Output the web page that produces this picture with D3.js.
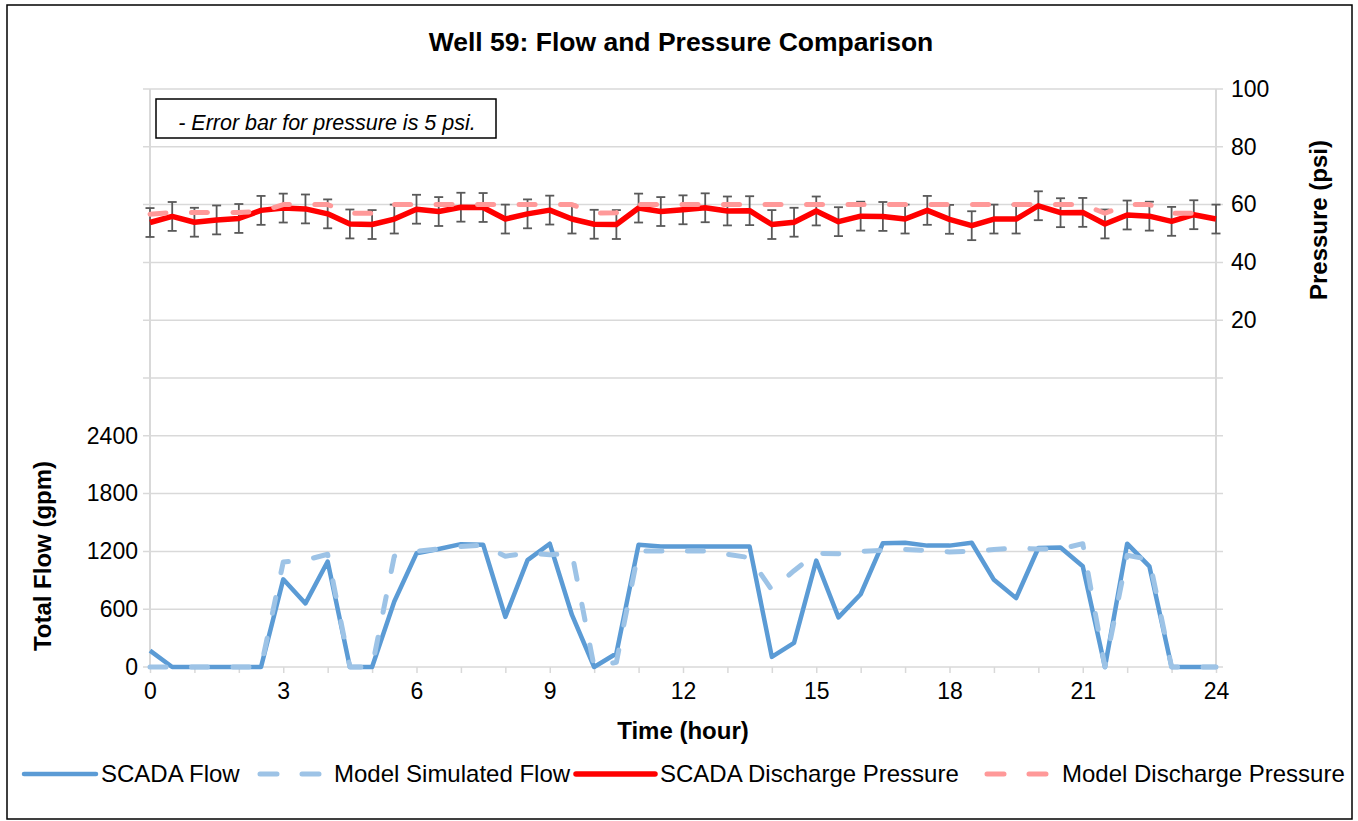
<!DOCTYPE html>
<html>
<head>
  <meta charset="utf-8">
  <title>Well 59: Flow and Pressure Comparison</title>
  <script src="https://cdn.jsdelivr.net/npm/d3@7"></script>
  <style>
    body { margin: 0; background: #fff; }
    svg text { font-family: "Liberation Sans", Arial, sans-serif; fill: #000; }
  </style>
</head>
<body>
<svg id="chart" width="1358" height="821"></svg>
<script>
  // time in hours (every half hour)
  var hours = [0, 0.5, 1, 1.5, 2, 2.5, 3, 3.5, 4, 4.5, 5, 5.5, 6, 6.5, 7, 7.5, 8, 8.5, 9, 9.5,
    10, 10.5, 11, 11.5, 12, 12.5, 13, 13.5, 14, 14.5, 15, 15.5, 16, 16.5, 17, 17.5, 18, 18.5, 19, 19.5,
    20, 20.5, 21, 21.5, 22, 22.5, 23, 23.5, 24];

  var scadaFlow = [170, 0, 0, 0, 0, 0, 910, 660, 1095, 0, 0, 680, 1180, 1225, 1275, 1270, 520, 1110, 1280, 540,
    0, 140, 1270, 1250, 1250, 1250, 1250, 1250, 105, 250, 1105, 515, 755, 1285, 1290, 1260, 1260, 1290, 905, 715,
    1235, 1240, 1045, 0, 1280, 1045, 0, 0, 0];

  var modelFlow = [0, 0, 0, 0, 0, 0, 1090, 1110, 1170, 0, 0, 1150, 1200, 1225, 1250, 1265, 1150, 1185, 1165, 1180,
    0, 50, 1205, 1205, 1205, 1205, 1170, 1135, 800, 1000, 1180, 1175, 1200, 1210, 1220, 1210, 1195, 1200, 1220, 1235,
    1225, 1225, 1280, 0, 1160, 1115, 0, 0, 0];

  var scadaPressure = [53.8, 55.9, 53.9, 54.7, 55.2, 58.0, 58.8, 58.5, 56.8, 53.3, 53.1, 55.0, 58.4, 57.6, 59.1, 59.0, 55.0, 56.8, 58.1, 55.0,
    53.2, 53.1, 58.8, 57.6, 58.2, 58.9, 57.8, 57.9, 53.1, 53.9, 57.8, 54.1, 56.0, 55.9, 55.0, 58.0, 54.9, 52.7, 55.0, 55.0,
    59.6, 57.2, 57.3, 53.3, 56.4, 56.0, 54.2, 56.5, 55.0];

  var modelPressure = [56.7, 57.3, 57.3, 57.2, 57.3, 57.6, 60, 60, 60, 57, 57, 60, 60, 60, 60, 60, 60, 60, 60, 60,
    57, 57.2, 60, 60, 60, 60, 60, 60, 60, 60, 60, 60, 60, 60, 60, 60, 60, 60, 60, 60,
    60, 60, 60, 57, 60, 60, 57, 57, 57];

  var pressureError = 5;

  var timeTicks = [0, 3, 6, 9, 12, 15, 18, 21, 24];
  var flowTicks = [0, 600, 1200, 1800, 2400];
  var pressureTicks = [20, 40, 60, 80, 100];

  var seriesNames = ["SCADA Flow", "Model Simulated Flow", "SCADA Discharge Pressure", "Model Discharge Pressure"];

  var svg = d3.select("#chart");
  var plotLeft = 150, plotRight = 1216, plotTop = 89, plotBottom = 667;
  var grid = "#d9d9d9";

  var x = d3.scaleLinear().domain([0, 24]).range([plotLeft, plotRight]);
  var yFlow = d3.scaleLinear().domain([0, 6000]).range([plotBottom, plotTop]);
  var yPres = d3.scaleLinear().domain([-100, 100]).range([plotBottom, plotTop]);

  // outer frame
  svg.append("rect")
    .attr("x", 7).attr("y", 5)
    .attr("width", 1345).attr("height", 814)
    .attr("fill", "#fff")
    .attr("stroke", "#000")
    .attr("stroke-width", 1.5);

  // horizontal gridlines (with the little tick stubs on both sides)
  svg.append("g")
    .selectAll("line")
    .data(d3.range(0, 6001, 600))
    .join("line")
    .attr("x1", plotLeft - 7).attr("x2", plotRight + 7)
    .attr("y1", d => yFlow(d)).attr("y2", d => yFlow(d))
    .attr("stroke", grid)
    .attr("stroke-width", 1.5);

  // vertical axis lines
  svg.append("g")
    .selectAll("line")
    .data([0, 24])
    .join("line")
    .attr("x1", d => x(d)).attr("x2", d => x(d))
    .attr("y1", plotTop).attr("y2", plotBottom)
    .attr("stroke", grid)
    .attr("stroke-width", 2);

  // hourly ticks below the x axis
  svg.append("g")
    .attr("transform", "translate(0," + plotBottom + ")")
    .call(d3.axisBottom(x).tickValues(d3.range(0, 25, 1)).tickFormat("").tickSize(6))
    .call(g => g.select(".domain").remove())
    .call(g => g.selectAll("line").attr("stroke", grid).attr("stroke-width", 1.5));

  // tick labels
  var tickFont = "23px";
  svg.append("g")
    .attr("transform", "translate(0," + plotBottom + ")")
    .call(d3.axisBottom(x).tickValues(timeTicks).tickSize(0).tickPadding(16))
    .call(g => g.select(".domain").remove())
    .selectAll("text").attr("font-size", tickFont);

  svg.append("g")
    .attr("transform", "translate(" + plotLeft + ",0)")
    .call(d3.axisLeft(yFlow).tickValues(flowTicks).tickFormat(d3.format("d")).tickSize(0).tickPadding(12))
    .call(g => g.select(".domain").remove())
    .selectAll("text").attr("font-size", tickFont);

  svg.append("g")
    .attr("transform", "translate(" + plotRight + ",0)")
    .call(d3.axisRight(yPres).tickValues(pressureTicks).tickFormat(d3.format("d")).tickSize(0).tickPadding(15))
    .call(g => g.select(".domain").remove())
    .selectAll("text").attr("font-size", tickFont);

  svg.selectAll(".tick text").attr("font-family", "Liberation Sans, Arial, sans-serif");

  // titles
  svg.append("text")
    .attr("x", 681).attr("y", 51)
    .attr("text-anchor", "middle")
    .attr("font-size", "26.5px").attr("font-weight", "bold")
    .text("Well 59: Flow and Pressure Comparison");

  svg.append("text")
    .attr("x", 683).attr("y", 739)
    .attr("text-anchor", "middle")
    .attr("font-size", "24px").attr("font-weight", "bold")
    .text("Time (hour)");

  svg.append("text")
    .attr("transform", "translate(51,556) rotate(-90)")
    .attr("text-anchor", "middle")
    .attr("font-size", "24px").attr("font-weight", "bold")
    .text("Total Flow (gpm)");

  svg.append("text")
    .attr("transform", "translate(1327,220) rotate(-90)")
    .attr("text-anchor", "middle")
    .attr("font-size", "24px").attr("font-weight", "bold")
    .text("Pressure (psi)");

  // note box
  svg.append("rect")
    .attr("x", 156).attr("y", 99)
    .attr("width", 340).attr("height", 39)
    .attr("fill", "#fff").attr("stroke", "#000").attr("stroke-width", 1.5);
  svg.append("text")
    .attr("x", 327).attr("y", 130)
    .attr("text-anchor", "middle")
    .attr("font-size", "21.5px").attr("font-style", "italic")
    .text("- Error bar for pressure is 5 psi.");

  // series
  var styles = [
    { color: "#5b9bd5", width: 4.5, dash: null },
    { color: "#9dc3e6", width: 5, dash: "16 25.5" },
    { color: "#ff0000", width: 5.5, dash: null },
    { color: "#ff9999", width: 5, dash: "16 25.5" }
  ];

  var flowLine = d3.line().x((d, i) => x(hours[i])).y(d => yFlow(d));
  var presLine = d3.line().x((d, i) => x(hours[i])).y(d => yPres(d));

  function drawLine(values, gen, s) {
    svg.append("path")
      .datum(values)
      .attr("d", gen)
      .attr("fill", "none")
      .attr("stroke", s.color)
      .attr("stroke-width", s.width)
      .attr("stroke-linejoin", "round")
      .attr("stroke-linecap", s.dash ? "round" : "butt")
      .attr("stroke-dasharray", s.dash);
  }

  drawLine(scadaFlow, flowLine, styles[0]);
  drawLine(modelFlow, flowLine, styles[1]);

  // error bars for SCADA pressure
  var eb = svg.append("g")
    .attr("stroke", "#595959")
    .attr("stroke-width", 1.8)
    .selectAll("g")
    .data(scadaPressure)
    .join("g");
  eb.append("line")
    .attr("x1", (d, i) => x(hours[i])).attr("x2", (d, i) => x(hours[i]))
    .attr("y1", d => yPres(d + pressureError)).attr("y2", d => yPres(d - pressureError));
  eb.append("line")
    .attr("x1", (d, i) => x(hours[i]) - 4.5).attr("x2", (d, i) => x(hours[i]) + 4.5)
    .attr("y1", d => yPres(d + pressureError)).attr("y2", d => yPres(d + pressureError));
  eb.append("line")
    .attr("x1", (d, i) => x(hours[i]) - 4.5).attr("x2", (d, i) => x(hours[i]) + 4.5)
    .attr("y1", d => yPres(d - pressureError)).attr("y2", d => yPres(d - pressureError));

  drawLine(scadaPressure, presLine, styles[2]);
  drawLine(modelPressure, presLine, styles[3]);

  // legend: sample line start and text start for each entry
  var legendLineX = [24, 260, 576, 987];
  var legendTextX = [101, 334, 660, 1062];
  var legendY = 774;
  var legend = svg.append("g")
    .selectAll("g")
    .data(seriesNames)
    .join("g");
  legend.append("line")
    .attr("x1", (d, i) => legendLineX[i])
    .attr("x2", (d, i) => styles[i].dash ? legendLineX[i] + 62 : legendTextX[i] - 5)
    .attr("y1", legendY).attr("y2", legendY)
    .attr("stroke", (d, i) => styles[i].color)
    .attr("stroke-width", (d, i) => styles[i].width)
    .attr("stroke-linecap", "round")
    .attr("stroke-dasharray", (d, i) => styles[i].dash ? "17 25" : null);
  legend.append("text")
    .attr("x", (d, i) => legendTextX[i])
    .attr("y", legendY + 8)
    .attr("font-size", "24px")
    .text(d => d);
</script>
</body>
</html>
